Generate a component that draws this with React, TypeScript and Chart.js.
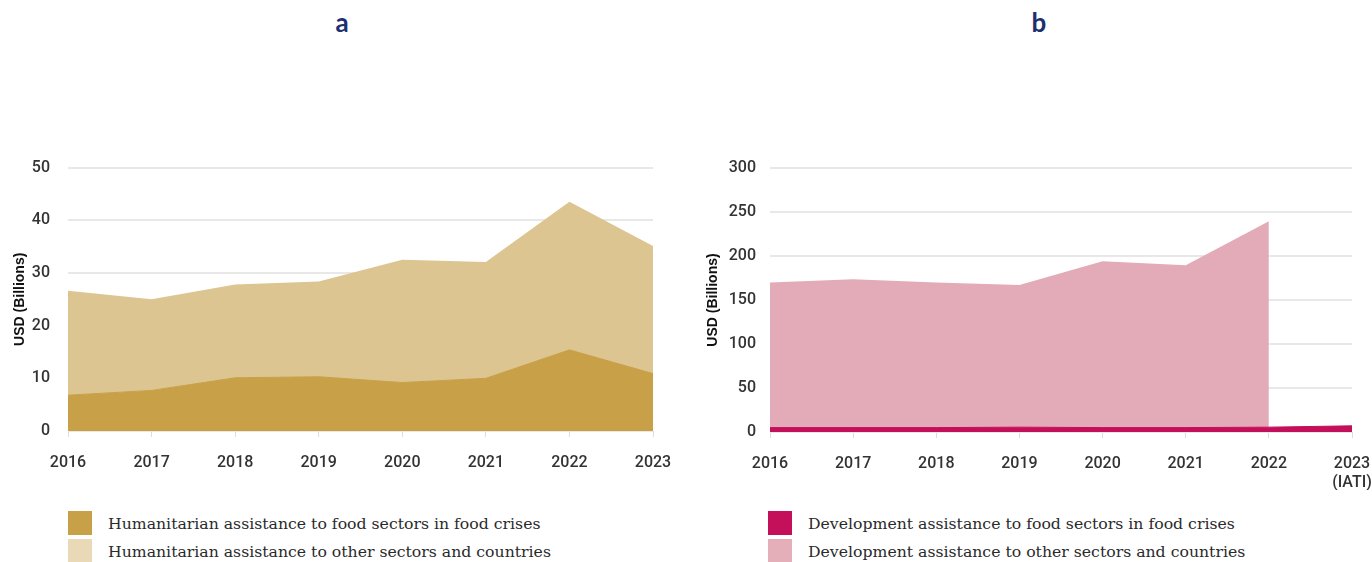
import React, { useEffect, useRef } from "react";
import { Chart, registerables } from "chart.js";

Chart.register(...registerables);

const years = ["2016", "2017", "2018", "2019", "2020", "2021", "2022", "2023"];
const yearsB: (string | string[])[] = ["2016", "2017", "2018", "2019", "2020", "2021", "2022", ["2023", "(IATI)"]];

// Panel a: humanitarian assistance (USD billions)
const humFood = [6.8, 7.7, 10.1, 10.3, 9.2, 10.0, 15.4, 10.9];
const humOther = [19.8, 17.3, 17.7, 18.1, 23.3, 22.1, 28.1, 24.2];

// Panel b: development assistance (USD billions)
const devFood = [5, 5, 5, 5.5, 5, 5, 5.5, 7];
const devOther: (number | null)[] = [165, 168.5, 165, 161.5, 189, 184.6, 234, null];

const legendA = [
  "Humanitarian assistance to food sectors in food crises",
  "Humanitarian assistance to other sectors and countries",
];
const legendB = [
  "Development assistance to food sectors in food crises",
  "Development assistance to other sectors and countries",
];

const TICK_FONT = { family: "Roboto, 'Liberation Sans', Arial, sans-serif", size: 16, weight: "500" };
const TICK_COLOR = "#333333";
const GRID_COLOR = "#e8e8e8";

function makeConfig(opts: {
  labels: any[];
  food: (number | null)[];
  other: (number | null)[];
  foodColor: string;
  otherColor: string;
  max: number;
  step: number;
  yWidth: number;
  yPad: number;
  titlePad: number;
  padRight: number;
  padTop: number;
  xHeight: number;
}): any {
  return {
    type: "line",
    data: {
      labels: opts.labels,
      datasets: [
        {
          label: "food",
          data: opts.food,
          backgroundColor: opts.foodColor,
          borderColor: opts.foodColor,
          borderWidth: 1,
          pointRadius: 0,
          fill: "origin",
          tension: 0,
        },
        {
          label: "other",
          data: opts.other,
          backgroundColor: opts.otherColor,
          borderColor: opts.otherColor,
          borderWidth: 0,
          pointRadius: 0,
          fill: "-1",
          tension: 0,
        },
      ],
    },
    options: {
      animation: false,
      responsive: false,
      maintainAspectRatio: false,
      layout: { padding: { left: 0, right: opts.padRight, top: opts.padTop, bottom: 0 } },
      plugins: { legend: { display: false }, tooltip: { enabled: false } },
      scales: {
        x: {
          grid: {
            display: true,
            drawOnChartArea: false,
            drawTicks: true,
            tickLength: 6,
            color: "#dddddd",
          },
          border: { display: false },
          ticks: { font: TICK_FONT, color: TICK_COLOR, padding: 16, maxRotation: 0, autoSkip: false },
          afterFit: (s: any) => {
            s.height = opts.xHeight;
            s.paddingLeft = 0;
            s.paddingRight = 0;
          },
        },
        y: {
          stacked: true,
          min: 0,
          max: opts.max,
          grid: { color: GRID_COLOR, lineWidth: 2, drawTicks: false },
          border: { display: false },
          ticks: { stepSize: opts.step, font: TICK_FONT, color: TICK_COLOR, padding: opts.yPad },
          title: {
            display: true,
            text: "USD (Billions)",
            font: { family: "'Liberation Sans', Arial, sans-serif", size: 14, weight: "bold" },
            color: "#111111",
            padding: { top: opts.titlePad, bottom: 0 },
          },
          afterFit: (s: any) => {
            s.width = opts.yWidth;
          },
        },
      },
    },
  };
}

function ChartCanvas({ config, style }: { config: any; style: React.CSSProperties }) {
  const ref = useRef<HTMLCanvasElement | null>(null);
  useEffect(() => {
    if (!ref.current) return;
    const chart = new Chart(ref.current, config);
    return () => chart.destroy();
  }, []);
  return <canvas ref={ref} width={style.width as number} height={style.height as number} style={{ position: "absolute", ...style }} />;
}

function Legend({ items, colors, left, top }: { items: string[]; colors: string[]; left: number; top: number }) {
  return (
    <div style={{ position: "absolute", left, top }}>
      {items.map((t, i) => (
        <div key={i} style={{ position: "relative", height: 28 }}>
          <div style={{ position: "absolute", left: 0, top: 0, width: 24, height: 24, background: colors[i] }} />
          <div
            style={{
              position: "absolute",
              left: 40,
              top: 3,
              whiteSpace: "nowrap",
              fontFamily: "'DejaVu Serif', serif",
              fontSize: 15.7,
              lineHeight: "20px",
              color: "#2a2a2a",
            }}
          >
            {t}
          </div>
        </div>
      ))}
    </div>
  );
}

export default function App() {
  const cfgA = makeConfig({
    labels: years,
    food: humFood,
    other: humOther,
    foodColor: "#c8a048",
    otherColor: "#ddc592",
    max: 50,
    step: 10,
    yWidth: 68,
    yPad: 18,
    titlePad: 12,
    padRight: 37,
    padTop: 27,
    xHeight: 59,
  });
  const cfgB = makeConfig({
    labels: yearsB,
    food: devFood,
    other: devOther,
    foodColor: "#c40f5a",
    otherColor: "#e3abb7",
    max: 300,
    step: 50,
    yWidth: 80,
    yPad: 14,
    titlePad: 15,
    padRight: 20,
    padTop: 28,
    xHeight: 58,
  });
  const titleStyle: React.CSSProperties = {
    position: "absolute",
    top: 6,
    width: 40,
    textAlign: "center",
    fontFamily: "Lato, 'Open Sans', sans-serif",
    fontWeight: 700,
    fontSize: 26,
    lineHeight: "32px",
    color: "#1c2f6e",
  };
  return (
    <div style={{ position: "fixed", left: 0, top: 0, width: 1372, height: 562, overflow: "hidden", background: "#ffffff" }}>
      <div style={{ ...titleStyle, left: 322 }}>a</div>
      <div style={{ ...titleStyle, left: 1019 }}>b</div>
      <ChartCanvas config={cfgA} style={{ left: 0, top: 140, width: 690, height: 350 }} />
      <ChartCanvas config={cfgB} style={{ left: 690, top: 140, width: 682, height: 350 }} />
      <Legend items={legendA} colors={["#c7a048", "#e9d9b6"]} left={68} top={511} />
      <Legend items={legendB} colors={["#c40f5a", "#e5afba"]} left={768} top={511} />
    </div>
  );
}
